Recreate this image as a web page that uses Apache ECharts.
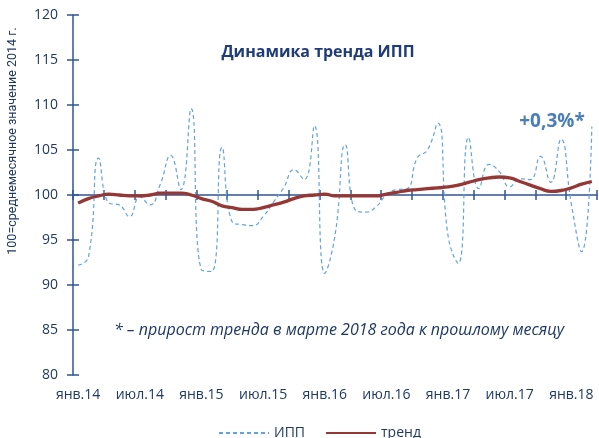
<!DOCTYPE html>
<html><head><meta charset="utf-8">
<script src="https://cdn.jsdelivr.net/npm/echarts@6/dist/echarts.min.js"></script>
<style>html,body{margin:0;padding:0;background:#fff}#c{width:599px;height:438px}</style>
</head><body><div id="c"></div>
<script>
const categories = [
  'янв.14','фев.14','мар.14','апр.14','май.14','июн.14','июл.14','авг.14','сен.14','окт.14','ноя.14','дек.14',
  'янв.15','фев.15','мар.15','апр.15','май.15','июн.15','июл.15','авг.15','сен.15','окт.15','ноя.15','дек.15',
  'янв.16','фев.16','мар.16','апр.16','май.16','июн.16','июл.16','авг.16','сен.16','окт.16','ноя.16','дек.16',
  'янв.17','фев.17','мар.17','апр.17','май.17','июн.17','июл.17','авг.17','сен.17','окт.17','ноя.17','дек.17',
  'янв.18','фев.18','мар.18'
];
const ippValues = [
  92.2, 93.1, 104.1, 99.1, 98.9, 97.6, 99.8, 98.9, 101.2, 104.4, 100.6, 109.6,
  91.7, 91.5, 105.3, 97.0, 96.7, 96.6, 97.6, 99.2, 100.8, 102.8, 101.7, 107.7,
  91.3, 95.5, 105.6, 98.3, 98.1, 98.7, 100.0, 100.6, 100.7, 104.1, 105.0, 108.0,
  95.5, 92.4, 106.4, 100.7, 103.4, 102.6, 100.9, 101.8, 101.7, 104.3, 101.4, 106.2,
  99.0, 93.7, 107.6
];
const trendValues = [
  99.1, 99.6, 99.9, 100.1, 100.0, 99.9, 99.9, 100.0, 100.2, 100.2, 100.2, 100.0,
  99.6, 99.3, 98.8, 98.6, 98.4, 98.4, 98.6, 98.9, 99.2, 99.6, 99.9, 100.0,
  100.1, 99.9, 99.9, 99.9, 99.9, 99.9, 100.1, 100.3, 100.5, 100.6, 100.7, 100.8,
  100.9, 101.1, 101.4, 101.7, 101.9, 102.0, 101.9, 101.5, 101.1, 100.7, 100.4, 100.5,
  100.8, 101.2, 101.5
];
const yMin = 80, yMax = 120, yStep = 5, baseLine = 100;
const seriesNames = ['ИПП', 'тренд'];
const titleText = 'Динамика тренда ИПП';
const yAxisTitle = '100=среднемесячное значение 2014 г.';
const growthText = '+0,3%*';
const noteText = '* – прирост тренда в марте 2018 года к прошлому месяцу';

const FONT = 'Open Sans';
const NAVY = '#1F3864';
const AXIS = '#2F5597';
const gridTop = 15, gridBottom = 63, chartH = 438;
const plotH = chartH - gridTop - gridBottom;
const baseOffset = -plotH * (baseLine - yMin) / (yMax - yMin);

const chart = echarts.init(document.getElementById('c'), null, {renderer: 'canvas'});
const hiddenCat = {
  type: 'category', data: categories, boundaryGap: true, gridIndex: 0,
  axisLabel: {show: false}, splitLine: {show: false}
};
chart.setOption({
  animation: false,
  textStyle: {fontFamily: FONT},
  grid: {left: 73, right: 2, top: gridTop, bottom: gridBottom, containLabel: false, outerBoundsMode: 'none'},
  xAxis: [
    {
      type: 'category', data: categories, boundaryGap: true, position: 'bottom',
      axisLine: {show: false, onZero: false}, axisTick: {show: false},
      splitLine: {show: false},
      axisLabel: {interval: 5, color: NAVY, fontSize: 14, margin: 13, fontFamily: FONT, hideOverlap: false}
    },
    Object.assign({}, hiddenCat, {
      position: 'bottom', offset: baseOffset,
      axisLine: {show: true, onZero: false, lineStyle: {color: AXIS, width: 1.5}},
      axisTick: {show: true, interval: 2, inside: true, length: 5, lineStyle: {color: AXIS, width: 1.5}}
    }),
    Object.assign({}, hiddenCat, {
      position: 'bottom', offset: baseOffset,
      axisLine: {show: false, onZero: false},
      axisTick: {show: true, interval: 2, inside: false, length: 5, lineStyle: {color: AXIS, width: 1.5}}
    })
  ],
  yAxis: [
    {
      type: 'value', min: yMin, max: yMax, interval: yStep, position: 'left',
      axisLine: {show: true, onZero: false, lineStyle: {color: AXIS, width: 1.5}},
      axisTick: {show: true, inside: false, length: 6, lineStyle: {color: AXIS, width: 1.5}},
      axisLabel: {color: NAVY, fontSize: 14, margin: 15, fontFamily: FONT},
      splitLine: {show: false}
    },
    {
      type: 'value', min: yMin, max: yMax, interval: yStep, position: 'left',
      axisLine: {show: false, onZero: false},
      axisTick: {show: true, inside: true, length: 6, lineStyle: {color: AXIS, width: 1.5}},
      axisLabel: {show: false}, splitLine: {show: false}
    }
  ],
  legend: {
    data: seriesNames, top: 421, left: 213, itemWidth: 50, itemHeight: 10, itemGap: 20,
    itemStyle: {opacity: 0},
    textStyle: {color: NAVY, fontSize: 14, fontFamily: FONT}
  },
  graphic: [
    {type: 'text', x: 318, y: 52, style: {text: titleText, fill: '#1F3C7A', font: 'bold 16px "' + FONT + '"', textAlign: 'center', textVerticalAlign: 'middle'}},
    {type: 'text', x: 552, y: 122, style: {text: growthText, fill: '#4A7EBB', font: 'bold 19px "' + FONT + '"', textAlign: 'center', textVerticalAlign: 'middle'}},
    {type: 'text', x: 339, y: 330, style: {text: noteText, fill: NAVY, font: 'italic 16px "' + FONT + '"', textAlign: 'center', textVerticalAlign: 'middle'}},
    {type: 'text', x: 13, y: 141, rotation: Math.PI / 2, style: {text: yAxisTitle, fill: NAVY, font: '12.5px Roboto', textAlign: 'center', textVerticalAlign: 'middle'}}
  ],
  series: [
    {
      name: seriesNames[0], type: 'line', data: ippValues, smooth: 0.5, symbol: 'none',
      xAxisIndex: 0, yAxisIndex: 0,
      lineStyle: {color: '#62A3DC', width: 1.2, type: [4, 3]}, itemStyle: {color: '#62A3DC'}, z: 3
    },
    {
      name: seriesNames[1], type: 'line', data: trendValues, smooth: 0.5, symbol: 'none',
      xAxisIndex: 0, yAxisIndex: 0,
      lineStyle: {color: '#953735', width: 3.3}, itemStyle: {color: '#953735'}, z: 4
    }
  ]
});
</script>
</body></html>
